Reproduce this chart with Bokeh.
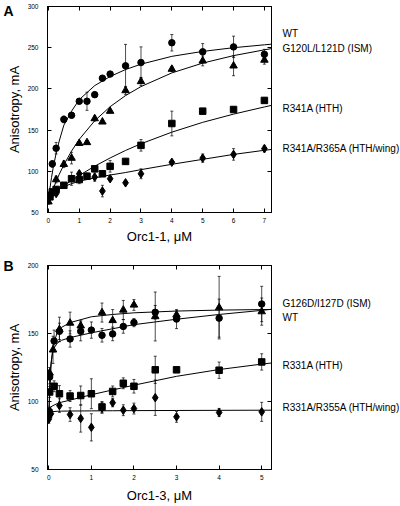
from bokeh.plotting import figure
from bokeh.models import (ColumnDataSource, Range1d, LinearAxis, FixedTicker,
                          Whisker, TeeHead, CustomJSTickFormatter)
from bokeh.core.properties import value
from bokeh.layouts import column, row
from bokeh.embed import file_html
from bokeh.resources import INLINE

FONT = "Liberation Sans"

# ---------------- Panel A (Orc1-1) ----------------
A_X_TICKS = [0, 1, 2, 3, 4, 5, 6, 7]
A_Y_TICKS = [50, 100, 150, 200, 250, 300]

A_WT_X = [0, 0.125, 0.25, 0.5, 0.75, 1.0, 1.25, 1.5, 1.75, 2.0, 2.5, 3.0, 4.0, 5.0, 6.0, 7.0]
A_WT_Y = [68, 109, 128, 163, 168, 185, 185, 193, 213, 218, 228, 232, 256, 245, 251, 242]
A_WT_E = [3, 4, 7, 4, 3, 3, 11, 3, 3, 3, 26, 19, 10, 10, 13, 6]

A_ISM_X = [0, 0.25, 0.5, 0.75, 1.0, 1.25, 1.5, 1.75, 2.0, 2.5, 3.0, 4.0, 5.0, 6.0, 7.0]
A_ISM_Y = [63, 90, 108.5, 116, 134, 135, 164, 160, 173, 198, 209, 224, 234, 228, 235]
A_ISM_E = [3, 4, 4, 7, 2, 2, 3, 2, 2, 5, 5, 3, 6, 12, 5]

A_HTH_X = [0, 0.05, 0.125, 0.25, 0.5, 0.75, 1.0, 1.25, 1.5, 1.75, 2.0, 2.5, 3.0, 4.0, 5.0, 6.0, 7.0]
A_HTH_Y = [71, 69, 75, 78, 83, 91, 90, 94, 103, 97, 106, 112, 131.5, 158, 173, 175, 186]
A_HTH_E = [3, 2, 3, 3, 2, 8, 5, 4, 3, 2, 7, 3, 7, 15, 2, 3, 3]

A_WING_X = [0, 0.1, 0.25, 1.0, 1.5, 1.75, 2.0, 2.5, 3.0, 4.0, 5.0, 6.0, 7.0]
A_WING_Y = [66, 72, 73, 97, 93, 76, 91, 86, 97, 111, 116, 120.5, 127.5]
A_WING_E = [2, 2, 2, 3, 5, 7, 2, 2, 6, 2, 5, 7, 4]

# fitted curves
A_FIT_X = [0, 0.05, 0.1, 0.15, 0.25, 0.35, 0.5, 0.75, 1, 1.5, 2, 2.5, 3, 4, 5, 6, 7, 7.23]
A_FIT_WT = [65, 79.6, 92.3, 103.4, 121.9, 136.7, 156, 173, 187, 204, 215, 223.5, 230, 239.5, 245.5, 250, 253.5, 254.3]
A_FIT_ISM = [63, 68.4, 73.5, 78.5, 87.7, 96.3, 107.9, 124.6, 138.8, 161.3, 178.4, 191.9, 202.8, 219.4, 231.3, 240.4, 247.4, 248.9]
A_FIT_HTH = [68, 69.5, 71, 72.5, 75.4, 78.2, 82.4, 88.9, 95, 106.2, 116.2, 125.3, 133.4, 147.5, 159.4, 169.4, 178.1, 180]
A_FIT_WING = [65, 68, 70.5, 72.5, 76, 78.5, 81.5, 85, 88, 92, 95.5, 98.5, 102, 108.5, 114.5, 120.5, 125.5, 126.5]

A_LABELS = ["WT", "G120L/L121D (ISM)", "R341A (HTH)", "R341A/R365A (HTH/wing)"]
A_LABEL_Y = [267.2, 249.6, 176.2, 127.7]
A_LETTER, A_LETTER_Y = "A", 295.1

# ---------------- Panel B (Orc1-3) ----------------
B_X_TICKS = [0, 1, 2, 3, 4, 5]
B_Y_TICKS = [50, 100, 150, 200]

B_WT_X = [0, 0.02, 0.125, 0.25, 0.5, 0.75, 1.0, 1.25, 1.5, 1.75, 2.0, 2.5, 3.0, 4.0, 5.0]
B_WT_Y = [90, 118, 144.5, 151.6, 146, 151.6, 152.5, 148.7, 149.7, 155.2, 158, 165.6, 160.6, 161.3, 171.7]
B_WT_E = [3, 5, 8, 6, 6, 7, 6, 5, 5, 5, 3, 5, 7, 14, 13]

B_ISM_X = [0.02, 0.1, 0.25, 0.5, 0.75, 1.25, 1.5, 1.75, 2.0, 2.5, 3.0, 4.0, 5.0]
B_ISM_Y = [121, 138, 153, 157.7, 155.7, 165.4, 159.6, 167.3, 171, 162.5, 163.7, 169, 166.1]
B_ISM_E = [4, 10, 9, 8, 4, 7, 8, 7, 4, 18, 3, 23, 10]

B_HTH_X = [0, 0.02, 0.125, 0.25, 0.5, 0.75, 1.0, 1.25, 1.5, 1.75, 2.0, 2.5, 3.0, 4.0, 5.0]
B_HTH_Y = [92, 107, 111.2, 105.7, 104, 104.4, 105.7, 96, 107.4, 113.4, 111.2, 123.3, 123.3, 123, 129.1]
B_HTH_E = [3, 4, 4, 6, 4, 7, 11, 4, 4, 4, 5, 10, 0, 6, 6]

B_WING_X = [0, 0.02, 0.05, 0.25, 0.5, 0.75, 1.0, 1.25, 1.5, 1.75, 2.0, 2.5, 3.0, 4.0, 5.0]
B_WING_Y = [87, 93, 91, 97, 90.4, 87.5, 81, 95.3, 99.1, 93.6, 94.8, 102.8, 88.7, 91.9, 92.4]
B_WING_E = [3, 3, 3, 5, 5, 10, 10, 4, 3, 4, 4, 13, 4, 3, 7]

B_FIT_X = [0, 0.02, 0.05, 0.1, 0.2, 0.3, 0.5, 1, 1.5, 2, 3, 4, 5, 5.23]
B_FIT_WT = [88, 110, 128, 138, 143, 145, 147, 150.5, 153.5, 156.5, 160.5, 164, 167, 167.8]
B_FIT_ISM = [88, 105, 125, 141, 151, 154.5, 158, 162.3, 164, 165.2, 166.5, 167.2, 167.6, 167.7]
B_FIT_HTH = [90, 94, 96, 97, 98.5, 99.5, 101, 105, 108.5, 112, 118.5, 123.5, 127.5, 128.3]
B_FIT_WING = [86, 90, 92, 92.6, 92.8, 92.9, 93, 93.1, 93.2, 93.3, 93.4, 93.5, 93.6, 93.6]

B_LABELS = ["G126D/I127D (ISM)", "WT", "R331A (HTH)", "R331A/R355A (HTH/wing)"]
B_LABEL_Y = [172.1, 161.6, 126.8, 95.4]
B_LETTER, B_LETTER_Y = "B", 200

Y_TITLE = "Anisotropy, mA"

# ---------------- layout (pixels) ----------------
MAIN_W = 279     # 46 + 225 frame + 8
RIGHT_W = 121    # strip holding the series names
FRAME_H_A, TOP_A, BOT_A = 206, 6, 38
FRAME_H_B, TOP_B, BOT_B = 207, 15, 33


def style_axis(ax, ticks, show_labels):
    ax.ticker = FixedTicker(ticks=ticks)
    ax.major_tick_in = 4
    ax.major_tick_out = 0
    ax.minor_tick_in = 0
    ax.minor_tick_out = 0
    ax.axis_line_color = "black"
    ax.axis_line_width = 1
    ax.major_tick_line_color = "black"
    ax.major_tick_line_width = 1
    ax.major_label_text_font = FONT
    ax.major_label_text_color = "black"
    ax.major_label_text_font_size = "6.5px"
    if not show_labels:
        ax.formatter = CustomJSTickFormatter(code="return ''")
        ax.major_label_standoff = 0


def series(p, xs, ys, es, marker, size):
    src = ColumnDataSource(dict(x=xs, y=ys,
                                upper=[y + e for y, e in zip(ys, es)],
                                lower=[y - e for y, e in zip(ys, es)]))
    w = Whisker(source=src, base="x", upper="upper", lower="lower",
                dimension="height", line_color="black", line_width=0.7,
                upper_head=TeeHead(size=3, line_color="black", line_width=0.7),
                lower_head=TeeHead(size=3, line_color="black", line_width=0.7))
    p.add_layout(w)
    p.scatter("x", "y", source=src, marker=marker, size=size,
              fill_color="black", line_color="black")


def main_panel(frame_h, top, bottom, xr, yr, xt, yt, xlabel, title_std, letter, letter_y):
    p = figure(width=MAIN_W, height=top + frame_h + bottom,
               x_range=Range1d(*xr), y_range=Range1d(*yr),
               output_backend="svg", toolbar_location=None,
               min_border_left=46, min_border_right=8,
               min_border_top=top, min_border_bottom=bottom)
    p.xgrid.visible = False
    p.ygrid.visible = False
    p.outline_line_color = "black"
    p.background_fill_color = "white"
    p.border_fill_color = "white"

    xa = p.below[0]
    ya = p.left[0]
    style_axis(xa, xt, True)
    style_axis(ya, yt, True)
    xa.major_label_standoff = 5
    ya.major_label_standoff = 9
    xa.axis_label = xlabel
    ya.axis_label = Y_TITLE
    for ax in (xa, ya):
        ax.axis_label_text_font = FONT
        ax.axis_label_text_font_size = "13px"
        ax.axis_label_text_font_style = "normal"
        ax.axis_label_text_color = "black"
    xa.axis_label_standoff = title_std
    ya.axis_label_standoff = 3

    # outer left axis carrying only the panel letter
    la = LinearAxis(ticker=FixedTicker(ticks=[letter_y]),
                    formatter=CustomJSTickFormatter(code="return '%s'" % letter))
    la.axis_line_color = None
    la.major_tick_line_color = None
    la.minor_tick_line_color = None
    la.major_tick_in = 0
    la.major_tick_out = 0
    la.major_label_standoff = -10
    la.major_label_text_font = FONT
    la.major_label_text_font_size = "14px"
    la.major_label_text_font_style = "bold"
    la.major_label_text_color = "black"
    p.add_layout(la, "left")

    ra = LinearAxis()
    style_axis(ra, yt, False)
    p.add_layout(ra, "right")
    ta = LinearAxis()
    style_axis(ta, xt, False)
    p.add_layout(ta, "above")
    return p


def name_strip(main, labels, label_y):
    p = figure(width=RIGHT_W, height=main.height, x_range=Range1d(0, RIGHT_W),
               y_range=main.y_range, x_axis_location=None, y_axis_location=None,
               output_backend="svg", toolbar_location=None, min_border=0)
    p.outline_line_color = None
    p.grid.visible = False
    p.background_fill_color = "white"
    p.border_fill_color = "white"
    p.text(x=[3] * len(labels), y=label_y, text=labels, text_font=value(FONT),
           text_font_size=value("10px"), text_baseline="middle",
           text_align="left", text_color="black")
    return p


# ---- Panel A ----
pA = main_panel(FRAME_H_A, TOP_A, BOT_A, (-0.03, 7.23), (50, 300), A_X_TICKS, A_Y_TICKS,
                "Orc1-1, \u03bcM", 3, A_LETTER, A_LETTER_Y)
for ys in (A_FIT_WT, A_FIT_ISM, A_FIT_HTH, A_FIT_WING):
    pA.line(A_FIT_X, ys, line_color="black", line_width=1)
series(pA, A_WT_X, A_WT_Y, A_WT_E, "circle", 6.5)
series(pA, A_ISM_X, A_ISM_Y, A_ISM_E, "triangle", 7.5)
series(pA, A_HTH_X, A_HTH_Y, A_HTH_E, "square", 6.5)
series(pA, A_WING_X, A_WING_Y, A_WING_E, "diamond", 8.5)
rA = name_strip(pA, A_LABELS, A_LABEL_Y)

# ---- Panel B ----
pB = main_panel(FRAME_H_B, TOP_B, BOT_B, (-0.03, 5.23), (50, 200), B_X_TICKS, B_Y_TICKS,
                "Orc1-3, \u03bcM", 5, B_LETTER, B_LETTER_Y)
for ys in (B_FIT_WT, B_FIT_ISM, B_FIT_HTH, B_FIT_WING):
    pB.line(B_FIT_X, ys, line_color="black", line_width=1)
series(pB, B_WT_X, B_WT_Y, B_WT_E, "circle", 6.5)
series(pB, B_ISM_X, B_ISM_Y, B_ISM_E, "triangle", 7.5)
series(pB, B_HTH_X, B_HTH_Y, B_HTH_E, "square", 6.5)
series(pB, B_WING_X, B_WING_Y, B_WING_E, "diamond", 8.5)
rB = name_strip(pB, B_LABELS, B_LABEL_Y)

layout = column(row(pA, rA, spacing=0), row(pB, rB, spacing=0), spacing=0)
open("out.html", "w").write(file_html(layout, INLINE))
